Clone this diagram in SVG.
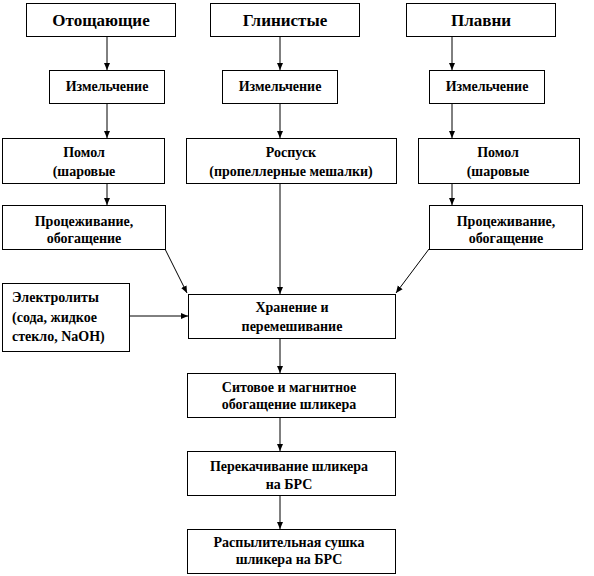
<svg xmlns="http://www.w3.org/2000/svg" width="594" height="576" viewBox="0 0 594 576" font-family="'Liberation Serif', 'DejaVu Serif', serif">
<style>
.box{fill:#fff;stroke:#000;stroke-width:1}
text{font-family:'Liberation Serif','DejaVu Serif',serif;font-weight:bold;fill:#000;font-size:14px}
.t{font-size:17px}
.c{text-anchor:middle}
.ln{stroke:#000;stroke-width:1;fill:none;marker-end:url(#ah)}
</style>
<defs>
<marker id="ah" markerUnits="userSpaceOnUse" markerWidth="8" markerHeight="8" refX="7" refY="4" orient="auto">
<path d="M0,1 L7,4 L0,7 Z" fill="#000"/>
</marker>
</defs>
<rect width="594" height="576" fill="#fff"/>
<g id="connectors">
<line class="ln" x1="107" y1="36" x2="107" y2="70"/>
<line class="ln" x1="107" y1="104" x2="107" y2="138"/>
<line class="ln" x1="107" y1="183" x2="107" y2="205"/>
<line class="ln" x1="280" y1="36" x2="280" y2="70"/>
<line class="ln" x1="280" y1="104" x2="280" y2="138"/>
<line class="ln" x1="280" y1="183" x2="280" y2="294"/>
<line class="ln" x1="452" y1="36" x2="452" y2="70"/>
<line class="ln" x1="452" y1="104" x2="452" y2="138"/>
<line class="ln" x1="452" y1="183" x2="452" y2="205"/>
<line class="ln" x1="165" y1="249" x2="187" y2="293"/>
<line class="ln" x1="429" y1="249" x2="396" y2="293"/>
<line class="ln" x1="129" y1="316" x2="188" y2="316"/>
<line class="ln" x1="280" y1="338" x2="280" y2="373"/>
<line class="ln" x1="280" y1="417" x2="280" y2="451"/>
<line class="ln" x1="280" y1="495" x2="280" y2="529"/>
</g>
<g id="n-otosh"><rect class="box" x="26.5" y="3.5" width="149" height="33"/><text class="t c" x="101" y="26">Отощающие</text></g>
<g id="n-glin"><rect class="box" x="210.5" y="3.5" width="149" height="33"/><text class="t c" x="285" y="26">Глинистые</text></g>
<g id="n-plavni"><rect class="box" x="406.5" y="3.5" width="149" height="33"/><text class="t c" x="481" y="26">Плавни</text></g>
<g id="n-izm1"><rect class="box" x="49.5" y="70.5" width="115" height="33"/><text class="c" x="107" y="91">Измельчение</text></g>
<g id="n-izm2"><rect class="box" x="222.5" y="70.5" width="115" height="33"/><text class="c" x="280" y="91">Измельчение</text></g>
<g id="n-izm3"><rect class="box" x="429.5" y="70.5" width="115" height="33"/><text class="c" x="487" y="91">Измельчение</text></g>
<g id="n-pomol1"><rect class="box" x="2.5" y="138.5" width="162" height="45"/><text class="c" x="84" y="157">Помол</text><text class="c" x="84" y="176">(шаровые</text></g>
<g id="n-rospusk"><rect class="box" x="186.5" y="138.5" width="210" height="45"/><text class="c" x="291" y="157">Роспуск</text><text class="c" x="291" y="176">(пропеллерные мешалки)</text></g>
<g id="n-pomol2"><rect class="box" x="418.5" y="138.5" width="161" height="45"/><text class="c" x="498" y="157">Помол</text><text class="c" x="498" y="176">(шаровые</text></g>
<g id="n-proc1"><rect class="box" x="2.5" y="205.5" width="163" height="44"/><text class="c" x="84" y="226">Процеживание,</text><text class="c" x="84" y="243">обогащение</text></g>
<g id="n-proc2"><rect class="box" x="429.5" y="205.5" width="153" height="44"/><text class="c" x="506" y="226">Процеживание,</text><text class="c" x="506" y="243">обогащение</text></g>
<g id="n-elec"><rect class="box" x="2.5" y="283.5" width="127" height="68"/><text x="12" y="302">Электролиты</text><text x="12" y="322">(сода, жидкое</text><text x="12" y="341">стекло, NaOH)</text></g>
<g id="n-hran"><rect class="box" x="188.5" y="294.5" width="207" height="44"/><text class="c" x="292" y="312">Хранение и</text><text class="c" x="292" y="331">перемешивание</text></g>
<g id="n-sit"><rect class="box" x="187.5" y="373.5" width="208" height="44"/><text class="c" x="289" y="392">Ситовое и магнитное</text><text class="c" x="289" y="409">обогащение шликера</text></g>
<g id="n-perek"><rect class="box" x="187.5" y="451.5" width="208" height="44"/><text class="c" x="289" y="471">Перекачивание шликера</text><text class="c" x="289" y="489">на БРС</text></g>
<g id="n-rasp"><rect class="box" x="187.5" y="529.5" width="208" height="44"/><text class="c" x="289" y="547">Распылительная сушка</text><text class="c" x="289" y="564">шликера на БРС</text></g>
</svg>
